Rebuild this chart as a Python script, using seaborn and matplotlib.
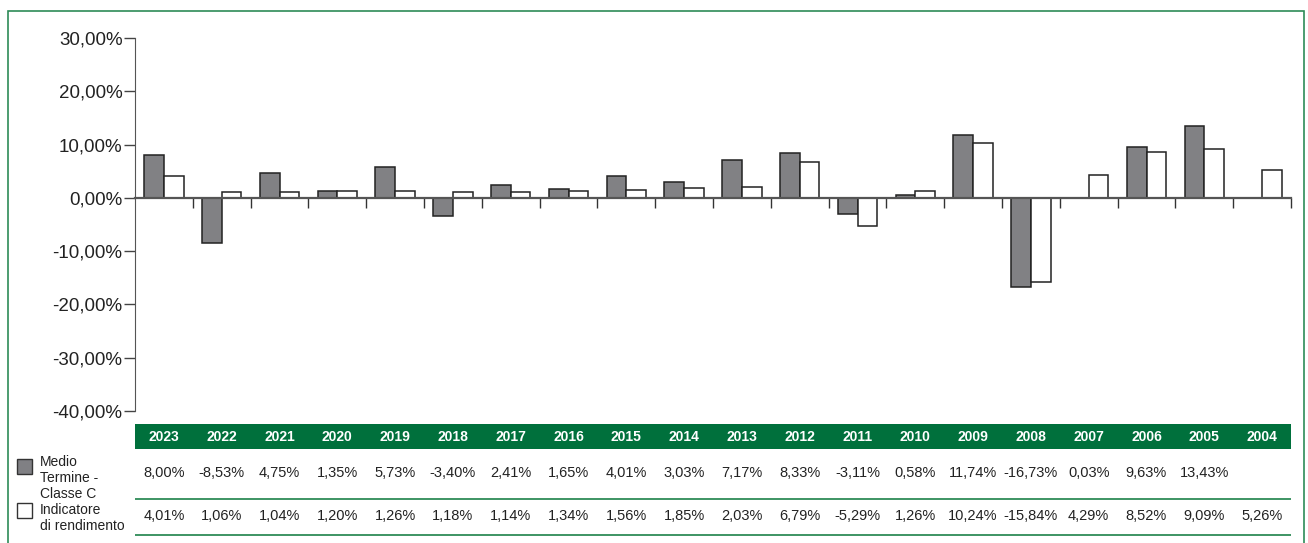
import matplotlib
matplotlib.use('Agg')
import matplotlib.pyplot as plt
import seaborn as sns
import numpy as np
import pandas as pd
from matplotlib.patches import Rectangle
from matplotlib.ticker import FuncFormatter

# Dati
anni = ['2023', '2022', '2021', '2020', '2019', '2018', '2017', '2016', '2015', '2014',
        '2013', '2012', '2011', '2010', '2009', '2008', '2007', '2006', '2005', '2004']
fondo = [8.00, -8.53, 4.75, 1.35, 5.73, -3.40, 2.41, 1.65, 4.01, 3.03,
         7.17, 8.33, -3.11, 0.58, 11.74, -16.73, 0.03, 9.63, 13.43, np.nan]
indicatore = [4.01, 1.06, 1.04, 1.20, 1.26, 1.18, 1.14, 1.34, 1.56, 1.85,
              2.03, 6.79, -5.29, 1.26, 10.24, -15.84, 4.29, 8.52, 9.09, 5.26]
serie = ['Medio\nTermine -\nClasse C', 'Indicatore\ndi rendimento']
colori = ['#808084', 'white']
verde = '#00703c'

df = pd.DataFrame({
    'anno': anni * 2,
    'serie': [serie[0]] * len(anni) + [serie[1]] * len(anni),
    'valore': fondo + indicatore,
})

W, H = 1308, 543
def fx(px):
    return px / W
def fy(py):
    return 1 - py / H

plt.rcParams['font.family'] = ['Liberation Sans', 'DejaVu Sans']
fig = plt.figure(figsize=(W / 100, H / 100), dpi=100)

# cornice verde
fig.patches.append(Rectangle((fx(8), fy(560)), fx(1304) - fx(8), fy(11) - fy(560),
                             transform=fig.transFigure, fill=False,
                             edgecolor='#2e8b57', linewidth=1.2))

ax = fig.add_axes([fx(135), fy(411), fx(1291) - fx(135), fy(38) - fy(411)])
sns.barplot(data=df, x='anno', y='valore', hue='serie', order=anni, hue_order=serie,
            palette=colori, edgecolor='#222222', linewidth=1.1, width=0.68,
            errorbar=None, legend=False, ax=ax)
ax.set_xlim(-0.5, len(anni) - 0.5)
ax.set_ylim(-40, 30)
ax.set_yticks(np.arange(-40, 31, 10))
ax.yaxis.set_major_formatter(FuncFormatter(lambda v, p: f'{v:.2f}%'.replace('.', ',')))
ax.tick_params(axis='y', labelsize=13.5, length=8, width=1, color='#444444', pad=1, labelcolor='#222222')
ax.set_xticks(np.arange(0.5, len(anni), 1))
ax.set_xticklabels([])
ax.tick_params(axis='x', length=7, width=1, color='#333333')
ax.spines['bottom'].set_position(('data', 0))
ax.spines['bottom'].set_color('#555555')
ax.spines['bottom'].set_linewidth(1.6)
ax.spines['left'].set_color('#555555')
ax.spines['top'].set_visible(False)
ax.spines['right'].set_visible(False)
ax.set_xlabel('')
ax.set_ylabel('')
ax.patch.set_alpha(0)

# tabella sotto il grafico
tab = fig.add_axes([fx(135), fy(540), fx(1291) - fx(135), fy(420) - fy(540)])
tab.set_xlim(-0.5, len(anni) - 0.5)
tab.set_ylim(540, 420)
tab.axis('off')
tab.add_patch(Rectangle((-0.5, 424), len(anni), 25, facecolor=verde, edgecolor='none'))
tab.axhline(499, color='#2e8b57', lw=1.3)
tab.axhline(535, color='#2e8b57', lw=1.3)

def fmt(v):
    if np.isnan(v):
        return ''
    return f'{v:.2f}%'.replace('.', ',')

for i, a in enumerate(anni):
    tab.text(i, 437, a, ha='center', va='center', color='white', fontsize=10, fontweight='bold')
    tab.text(i, 473, fmt(fondo[i]), ha='center', va='center', color='#222222', fontsize=10.5)
    tab.text(i, 516, fmt(indicatore[i]), ha='center', va='center', color='#222222', fontsize=10.5)

# legenda a sinistra della tabella
for k, (yq, ytxt) in enumerate([(459, 478), (503, 518)]):
    fig.patches.append(Rectangle((fx(17), fy(yq + 15)), fx(32) - fx(17), fy(yq) - fy(yq + 15),
                                 transform=fig.transFigure, facecolor=colori[k],
                                 edgecolor='#333333', linewidth=1))
    fig.text(fx(40), fy(ytxt), serie[k], ha='left', va='center', fontsize=10,
             color='#222222', linespacing=1.15)

fig.savefig('out.png', dpi=100)
